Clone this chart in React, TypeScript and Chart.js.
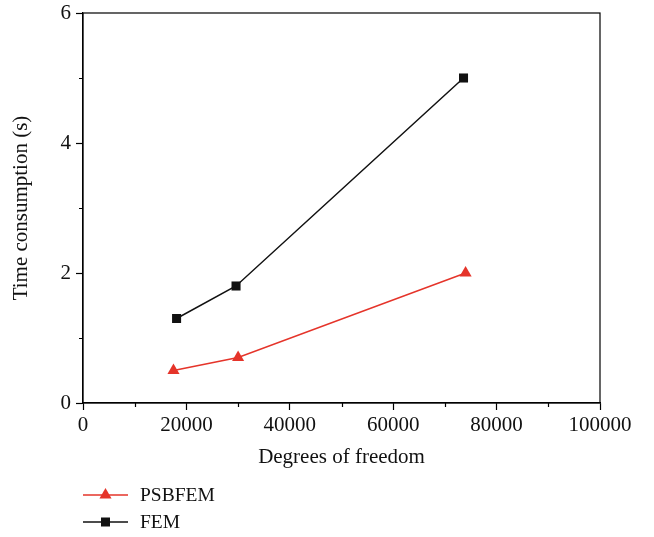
import React, { useEffect, useRef } from "react";
import { Chart, registerables } from "chart.js";

Chart.register(...registerables);

const seriesNames = ["PSBFEM", "FEM"];
const psbfemDof = [17500, 30000, 74000];
const psbfemTime = [0.5, 0.7, 2.0];
const femDof = [18100, 29600, 73600];
const femTime = [1.3, 1.8, 5.0];
const seriesColors = ["#e5342a", "#111111"];
const xTitle = "Degrees of freedom";
const yTitle = "Time consumption (s)";

const FONT = "'Liberation Serif', 'Times New Roman', serif";
const FONT_SIZE = 21;
const LEGEND_FONT_SIZE = 19.5;

const framePlugin = {
  id: "frameAndMinor",
  afterDraw(chart: any) {
    const { ctx, chartArea } = chart;
    const { left, right, top, bottom } = chartArea;
    ctx.save();
    ctx.strokeStyle = "#000";
    ctx.lineWidth = 1.2;
    ctx.strokeRect(left, top, right - left, bottom - top);
    // minor ticks at midpoints between major ticks
    const xs = chart.scales.x;
    const ys = chart.scales.y;
    ctx.beginPath();
    for (let i = 0; i < xs.ticks.length - 1; i++) {
      const v = (xs.ticks[i].value + xs.ticks[i + 1].value) / 2;
      const px = Math.round(xs.getPixelForValue(v)) + 0.5;
      ctx.moveTo(px, bottom);
      ctx.lineTo(px, bottom + 4);
    }
    for (let i = 0; i < ys.ticks.length - 1; i++) {
      const v = (ys.ticks[i].value + ys.ticks[i + 1].value) / 2;
      const py = Math.round(ys.getPixelForValue(v)) + 0.5;
      ctx.moveTo(left, py);
      ctx.lineTo(left - 4, py);
    }
    ctx.stroke();

    // legend
    const rowY = [bottom + 92, bottom + 119];
    chart.data.datasets.forEach((ds: any, i: number) => {
      const y = rowY[i];
      const x0 = left;
      const x1 = left + 45;
      const cx = (x0 + x1) / 2;
      ctx.strokeStyle = ds.borderColor;
      ctx.lineWidth = 1.5;
      ctx.beginPath();
      ctx.moveTo(x0, y);
      ctx.lineTo(x1, y);
      ctx.stroke();
      ctx.fillStyle = ds.pointBackgroundColor;
      ctx.beginPath();
      if (ds.pointStyle === "triangle") {
        const r = 7;
        ctx.moveTo(cx, y - r);
        ctx.lineTo(cx + r * Math.cos(Math.PI / 6), y + r / 2);
        ctx.lineTo(cx - r * Math.cos(Math.PI / 6), y + r / 2);
        ctx.closePath();
      } else {
        ctx.rect(cx - 4.5, y - 4.5, 9, 9);
      }
      ctx.fill();
      ctx.fillStyle = "#111";
      ctx.font = `${LEGEND_FONT_SIZE}px ${FONT}`;
      ctx.textAlign = "left";
      ctx.textBaseline = "middle";
      ctx.fillText(ds.label, x1 + 12, y + 1);
    });
    ctx.restore();
  },
};

function App() {
  const canvasRef = useRef<HTMLCanvasElement>(null);

  useEffect(() => {
    document.body.style.margin = "0";
    const canvas = canvasRef.current;
    if (!canvas) return;
    const chart = new Chart(canvas, {
      type: "line",
      data: {
        datasets: [
          {
            label: seriesNames[0],
            data: psbfemDof.map((x, i) => ({ x, y: psbfemTime[i] })),
            borderColor: seriesColors[0],
            backgroundColor: seriesColors[0],
            pointBackgroundColor: seriesColors[0],
            pointBorderColor: seriesColors[0],
            pointBorderWidth: 0,
            pointStyle: "triangle",
            pointRadius: 7,
            borderWidth: 1.5,
            tension: 0,
          },
          {
            label: seriesNames[1],
            data: femDof.map((x, i) => ({ x, y: femTime[i] })),
            borderColor: seriesColors[1],
            backgroundColor: seriesColors[1],
            pointBackgroundColor: seriesColors[1],
            pointBorderColor: seriesColors[1],
            pointBorderWidth: 0,
            pointStyle: "rect",
            pointRadius: 6.4,
            borderWidth: 1.5,
            tension: 0,
          },
        ],
      } as any,
      options: {
        animation: false,
        responsive: true,
        maintainAspectRatio: false,
        layout: { padding: { top: 13, right: 54, bottom: 67, left: 0 } },
        plugins: {
          legend: { display: false },
          tooltip: { enabled: false },
        },
        scales: {
          x: {
            type: "linear",
            min: 0,
            max: 100000,
            ticks: {
              stepSize: 20000,
              color: "#111",
              font: { family: FONT, size: FONT_SIZE },
              padding: 3,
              maxRotation: 0,
              callback: (v: any) => String(v),
            },
            grid: {
              drawOnChartArea: false,
              drawTicks: true,
              tickLength: 7,
              tickColor: "#000",
              tickWidth: 1.2,
            },
            border: { display: true, color: "#000", width: 1.2 },
            title: {
              display: true,
              text: xTitle,
              color: "#111",
              font: { family: FONT, size: FONT_SIZE },
              padding: { top: 0, bottom: 0 },
            },
            afterFit: (scale: any) => {
              scale.height = 67;
              scale.paddingLeft = 0;
              scale.paddingRight = 0;
            },
          },
          y: {
            type: "linear",
            min: 0,
            max: 6,
            ticks: {
              stepSize: 2,
              color: "#111",
              font: { family: FONT, size: FONT_SIZE },
              padding: 5,
            },
            grid: {
              drawOnChartArea: false,
              drawTicks: true,
              tickLength: 7,
              tickColor: "#000",
              tickWidth: 1.2,
            },
            border: { display: true, color: "#000", width: 1.2 },
            title: {
              display: true,
              text: yTitle,
              color: "#111",
              font: { family: FONT, size: FONT_SIZE },
              padding: { top: 9, bottom: 0 },
            },
            afterFit: (scale: any) => {
              scale.width = 83;
              scale.paddingTop = 0;
              scale.paddingBottom = 0;
            },
          },
        },
      } as any,
      plugins: [framePlugin],
    });
    return () => chart.destroy();
  }, []);

  return (
    <div style={{ width: 654, height: 537, position: "relative", background: "#fff" }}>
      <canvas ref={canvasRef} />
    </div>
  );
}

export default App;
